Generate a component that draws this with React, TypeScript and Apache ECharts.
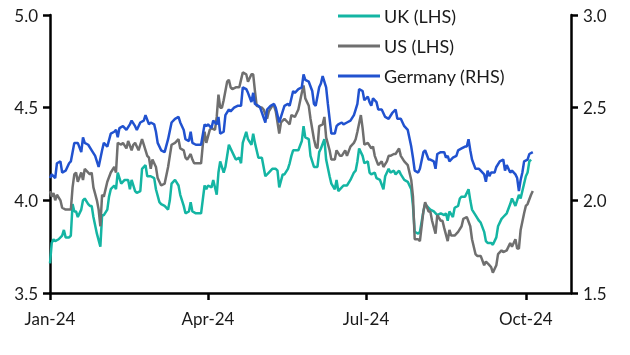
import React, { useEffect, useRef } from "react";
import * as echarts from "echarts";

// x = days since 1 Jan 2024
const tickDays = [0, 91, 182, 274];
const tickLabels = ["Jan-24", "Apr-24", "Jul-24", "Oct-24"];
const seriesNames = ["UK (LHS)", "US (LHS)", "Germany (RHS)"];

const ukPoints: [number, number][] = [[0,3.66],[1,3.77],[2,3.79],[3,3.78],[5,3.79],[7,3.81],[8,3.84],[9,3.80],[11,3.80],[12,3.81],[13,3.98],[14,3.94],[15,3.94],[16,3.91],[18,3.95],[19,4.00],[20,4.01],[22,3.98],[23,3.97],[24,3.97],[25,3.91],[27,3.82],[29,3.75],[30,3.92],[31,3.92],[33,3.95],[34,4.02],[35,4.06],[37,4.08],[38,4.06],[39,4.15],[41,4.09],[43,4.11],[45,4.11],[46,4.06],[47,4.11],[49,4.05],[50,4.04],[52,4.05],[53,4.17],[55,4.19],[56,4.13],[58,4.13],[60,4.12],[61,4.06],[63,3.99],[64,3.98],[66,3.97],[68,3.95],[69,4.00],[70,4.09],[72,4.11],[74,4.08],[75,4.03],[77,3.97],[78,3.93],[80,3.94],[81,3.99],[82,3.94],[84,3.93],[87,3.93],[89,4.08],[90,4.06],[91,4.08],[93,4.07],[94,4.11],[96,4.03],[97,4.15],[98,4.21],[100,4.15],[101,4.18],[103,4.30],[104,4.28],[106,4.24],[107,4.22],[109,4.23],[110,4.20],[111,4.31],[113,4.37],[114,4.33],[116,4.30],[117,4.36],[118,4.31],[120,4.23],[122,4.23],[124,4.13],[126,4.15],[128,4.17],[130,4.17],[131,4.16],[132,4.07],[134,4.14],[135,4.14],[137,4.17],[138,4.20],[139,4.24],[140,4.27],[143,4.27],[145,4.32],[146,4.40],[147,4.34],[149,4.33],[150,4.24],[152,4.18],[154,4.18],[155,4.26],[156,4.28],[158,4.33],[159,4.22],[161,4.13],[162,4.09],[164,4.06],[165,4.11],[166,4.05],[168,4.07],[169,4.08],[171,4.08],[173,4.11],[175,4.15],[176,4.16],[177,4.21],[178,4.28],[180,4.24],[181,4.20],[183,4.21],[184,4.15],[185,4.14],[187,4.15],[188,4.12],[190,4.11],[192,4.06],[193,4.13],[195,4.17],[196,4.15],[198,4.16],[199,4.14],[201,4.16],[202,4.14],[204,4.11],[206,4.10],[208,4.06],[209,3.97],[210,3.83],[212,3.82],[213,3.83],[215,3.94],[216,3.98],[218,3.96],[219,3.95],[221,3.94],[223,3.92],[225,3.93],[227,3.92],[228,3.93],[229,3.89],[230,3.94],[232,3.91],[233,3.96],[235,3.97],[236,4.01],[237,4.02],[239,4.02],[241,4.06],[242,4.00],[243,3.95],[245,3.92],[247,3.89],[248,3.88],[250,3.83],[251,3.78],[252,3.77],[254,3.77],[255,3.76],[257,3.80],[258,3.86],[260,3.90],[261,3.91],[263,3.93],[265,3.98],[266,4.01],[268,3.97],[269,4.00],[270,4.03],[271,4.01],[272,4.05],[274,4.13],[275,4.15],[276,4.21],[277,4.22]];

const usPoints: [number, number][] = [[0,4.05],[1,4.02],[2,4.04],[3,4.00],[4,4.03],[6,4.00],[7,3.96],[9,3.95],[12,3.95],[13,4.07],[14,4.14],[15,4.15],[16,4.10],[18,4.15],[19,4.11],[20,4.17],[22,4.15],[23,4.14],[24,4.15],[25,4.07],[27,4.00],[28,3.95],[29,3.86],[30,4.03],[31,4.02],[33,4.10],[35,4.15],[37,4.18],[38,4.15],[39,4.31],[41,4.30],[42,4.31],[44,4.28],[45,4.32],[47,4.27],[48,4.30],[49,4.31],[51,4.27],[53,4.33],[54,4.30],[56,4.24],[57,4.23],[58,4.17],[59,4.22],[61,4.18],[62,4.12],[64,4.08],[66,4.09],[68,4.18],[69,4.24],[70,4.30],[72,4.31],[74,4.33],[75,4.28],[77,4.27],[78,4.23],[79,4.22],[81,4.25],[82,4.22],[83,4.20],[85,4.20],[87,4.20],[88,4.30],[89,4.37],[90,4.31],[92,4.38],[93,4.39],[95,4.38],[96,4.45],[97,4.57],[98,4.50],[99,4.50],[100,4.54],[102,4.64],[103,4.65],[104,4.61],[105,4.60],[107,4.61],[109,4.61],[110,4.65],[111,4.69],[113,4.68],[114,4.64],[116,4.68],[117,4.68],[118,4.59],[119,4.51],[122,4.50],[123,4.49],[125,4.44],[126,4.48],[128,4.51],[129,4.51],[130,4.48],[132,4.36],[133,4.42],[135,4.44],[137,4.42],[138,4.41],[139,4.46],[141,4.45],[143,4.49],[145,4.58],[146,4.62],[147,4.55],[149,4.51],[150,4.44],[152,4.33],[153,4.29],[154,4.28],[155,4.40],[157,4.41],[158,4.45],[159,4.34],[161,4.27],[162,4.22],[164,4.22],[165,4.27],[167,4.24],[168,4.24],[170,4.27],[171,4.24],[173,4.29],[175,4.31],[176,4.33],[177,4.37],[179,4.46],[180,4.39],[181,4.30],[183,4.31],[185,4.28],[186,4.29],[187,4.24],[189,4.19],[191,4.21],[192,4.18],[194,4.21],[195,4.24],[196,4.24],[198,4.25],[199,4.25],[201,4.28],[202,4.24],[204,4.21],[206,4.19],[208,4.11],[209,4.02],[210,3.79],[212,3.79],[213,3.78],[215,3.94],[216,3.99],[218,3.94],[219,3.94],[220,3.89],[222,3.82],[223,3.92],[225,3.89],[226,3.89],[227,3.85],[229,3.78],[230,3.84],[231,3.81],[233,3.81],[235,3.83],[237,3.86],[238,3.90],[240,3.91],[242,3.86],[243,3.79],[245,3.71],[246,3.70],[248,3.70],[250,3.65],[251,3.67],[253,3.65],[254,3.64],[255,3.61],[257,3.65],[258,3.71],[260,3.73],[261,3.72],[263,3.73],[265,3.77],[266,3.75],[268,3.79],[269,3.74],[270,3.74],[271,3.84],[273,3.93],[274,3.97],[275,3.98],[277,4.03],[278,4.05]];

const dePoints: [number, number][] = [[0,2.12],[1,2.14],[3,2.12],[4,2.20],[6,2.21],[7,2.15],[9,2.16],[11,2.20],[12,2.21],[13,2.26],[14,2.31],[16,2.31],[18,2.26],[19,2.34],[20,2.31],[22,2.30],[24,2.27],[26,2.24],[27,2.21],[28,2.18],[30,2.27],[31,2.31],[33,2.29],[35,2.36],[37,2.37],[38,2.38],[39,2.34],[40,2.39],[42,2.40],[44,2.38],[46,2.41],[47,2.43],[49,2.40],[50,2.38],[52,2.42],[54,2.43],[55,2.46],[57,2.41],[58,2.42],[60,2.41],[61,2.37],[62,2.31],[64,2.27],[66,2.26],[68,2.33],[70,2.42],[72,2.44],[74,2.45],[75,2.42],[77,2.38],[78,2.33],[80,2.32],[81,2.37],[82,2.31],[84,2.30],[87,2.30],[89,2.41],[90,2.40],[91,2.41],[93,2.39],[94,2.43],[96,2.41],[97,2.45],[98,2.36],[100,2.37],[101,2.46],[103,2.49],[104,2.48],[106,2.50],[108,2.51],[110,2.51],[111,2.61],[113,2.60],[114,2.58],[116,2.53],[117,2.58],[118,2.52],[120,2.51],[121,2.50],[124,2.42],[125,2.49],[127,2.51],[129,2.52],[130,2.50],[132,2.42],[133,2.45],[135,2.51],[137,2.52],[138,2.51],[140,2.59],[141,2.58],[143,2.60],[145,2.61],[146,2.68],[147,2.65],[149,2.64],[151,2.59],[152,2.52],[153,2.51],[155,2.61],[156,2.63],[157,2.67],[159,2.61],[160,2.52],[161,2.44],[162,2.36],[164,2.36],[165,2.40],[166,2.41],[168,2.42],[169,2.41],[171,2.42],[173,2.43],[175,2.46],[176,2.49],[177,2.52],[178,2.60],[180,2.59],[181,2.54],[183,2.56],[184,2.53],[185,2.51],[186,2.55],[188,2.53],[189,2.49],[191,2.49],[192,2.47],[193,2.45],[195,2.44],[197,2.47],[199,2.49],[200,2.44],[202,2.44],[204,2.40],[206,2.38],[208,2.29],[209,2.23],[210,2.16],[212,2.15],[213,2.17],[215,2.26],[216,2.27],[218,2.22],[219,2.22],[221,2.21],[222,2.17],[223,2.25],[225,2.26],[227,2.26],[228,2.23],[229,2.24],[230,2.21],[232,2.23],[234,2.24],[235,2.27],[237,2.28],[239,2.29],[240,2.29],[241,2.33],[242,2.27],[243,2.22],[245,2.17],[247,2.17],[248,2.16],[250,2.14],[251,2.10],[252,2.16],[253,2.13],[254,2.15],[256,2.15],[257,2.18],[259,2.21],[261,2.22],[262,2.16],[263,2.19],[265,2.15],[266,2.16],[268,2.14],[269,2.12],[270,2.05],[271,2.11],[272,2.15],[273,2.21],[275,2.22],[276,2.25],[278,2.26]];

const FONT = "Lato";
const TEXT = "#1a1a1a";

export default function App() {
  const ref = useRef<HTMLDivElement>(null);
  useEffect(() => {
    if (!ref.current) return;
    const chart = echarts.init(ref.current, null, { renderer: "svg" });
    const axisLine = { show: true, lineStyle: { color: "#000", width: 2.5 } };
    const axisTick = { show: true, inside: false, length: 7, lineStyle: { color: "#000", width: 2.5 } };
    const yLabel = { color: TEXT, fontFamily: FONT, fontSize: 17, margin: 12, formatter: (v: number) => v.toFixed(1) };
    chart.setOption({
      animation: false,
      textStyle: { fontFamily: FONT },
      grid: { left: 50, right: 59, top: 15, bottom: 62, containLabel: false },
      legend: {
        data: seriesNames,
        orient: "vertical",
        left: 333,
        top: 2,
        icon: "rect",
        itemWidth: 42,
        itemHeight: 3,
        itemGap: 12,
        textStyle: { color: TEXT, fontFamily: FONT, fontSize: 18, padding: [0, 0, 0, -1] },
      },
      xAxis: {
        type: "value",
        min: 0,
        max: 300,
        splitLine: { show: false },
        axisLine,
        axisTick: { ...axisTick, customValues: tickDays },
        axisLabel: {
          customValues: tickDays,
          color: TEXT,
          fontFamily: FONT,
          fontSize: 17,
          margin: 17,
          formatter: (v: number) => {
            const i = tickDays.indexOf(Math.round(v));
            return i >= 0 ? tickLabels[i] : "";
          },
        },
      },
      yAxis: [
        {
          type: "value", min: 3.5, max: 5.0, interval: 0.5, position: "left",
          splitLine: { show: false }, axisLine, axisTick, axisLabel: yLabel,
        },
        {
          type: "value", min: 1.5, max: 3.0, interval: 0.5, position: "right",
          splitLine: { show: false }, axisLine, axisTick, axisLabel: yLabel,
        },
      ],
      series: [
        { name: seriesNames[0], type: "line", data: ukPoints, yAxisIndex: 0, showSymbol: false, color: "#14b5a3", lineStyle: { width: 2.5 } },
        { name: seriesNames[1], type: "line", data: usPoints, yAxisIndex: 0, showSymbol: false, color: "#6f6f6f", lineStyle: { width: 2.5 } },
        { name: seriesNames[2], type: "line", data: dePoints, yAxisIndex: 1, showSymbol: false, color: "#2152cf", lineStyle: { width: 2.5 } },
      ],
    });
    return () => chart.dispose();
  }, []);
  return <div ref={ref} style={{ position: "fixed", left: 0, top: 0, width: 630, height: 355 }} />;
}
